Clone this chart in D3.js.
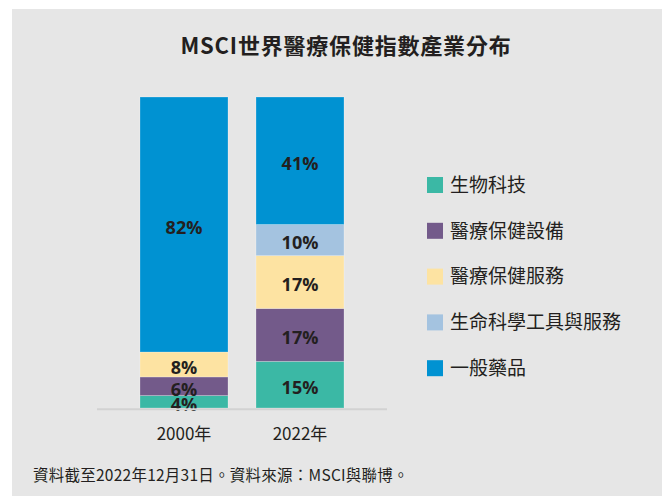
<!DOCTYPE html>
<html>
<head>
<meta charset="utf-8">
<script src="https://cdn.jsdelivr.net/npm/d3@7"></script>
<style>
  body { margin: 0; background: #fff; }
  svg { display: block; }
</style>
</head>
<body>
<svg id="chart"></svg>
<script>
// categories + series (percent of index)
const years = ["2000年", "2022年"];
const sectors = ["生物科技", "醫療保健設備", "醫療保健服務", "生命科學工具與服務", "一般藥品"];
const biotech = [4, 15];
const equipment = [6, 17];
const services = [8, 17];
const lifeSci = [0, 10];
const pharma = [82, 41];
const colors = ["#3bb8a5", "#735a8a", "#fde3a2", "#a4c3e0", "#0092d2"];

const title = "MSCI世界醫療保健指數產業分布";
const note = "資料截至2022年12月31日。資料來源：MSCI與聯博。";

class stackChart {
    constructor(_config) {
        this.config = {
            parentElement: _config.parentElement,
            containerWidth: 662,
            containerHeight: 496
        };
        this.initVis();
    }

    initVis() {
        let vis = this;

        vis.svg = d3.select(vis.config.parentElement)
            .attr('width', vis.config.containerWidth)
            .attr('height', vis.config.containerHeight)
            .style('font-family', '"Noto Sans CJK TC", "Noto Sans", sans-serif');

        // grey panel
        vis.svg.append('rect')
            .attr('x', 12).attr('y', 9)
            .attr('width', 650).attr('height', 487)
            .attr('fill', '#e6e6e6');

        vis.svg.append('text')
            .attr('x', 346).attr('y', 54)
            .attr('text-anchor', 'middle')
            .attr('font-size', 22)
            .attr('font-weight', 700)
            .attr('letter-spacing', 0.8)
            .attr('fill', '#231f20')
            .text(title);

        // bars 140-228 and 256-344
        vis.xScale = d3.scaleBand()
            .domain(years)
            .range([140, 344])
            .paddingInner(28 / 116)
            .paddingOuter(0);

        vis.yScale = d3.scaleLinear()
            .domain([0, 100])
            .range([408, 97]);
    }

    updateVis() {
        let vis = this;
        vis.table = years.map((y, i) => ({
            year: y,
            "生物科技": biotech[i],
            "醫療保健設備": equipment[i],
            "醫療保健服務": services[i],
            "生命科學工具與服務": lifeSci[i],
            "一般藥品": pharma[i]
        }));
        vis.series = d3.stack().keys(sectors)(vis.table);
        vis.renderVis();
    }

    renderVis() {
        let vis = this;

        const groups = vis.svg.selectAll('.layer')
            .data(vis.series)
            .join('g')
            .attr('class', 'layer')
            .attr('fill', (d, i) => colors[i]);

        groups.selectAll('rect')
            .data(d => d.filter(s => s[1] - s[0] > 0))
            .join('rect')
            .attr('x', d => vis.xScale(d.data.year))
            .attr('y', d => vis.yScale(d[1]))
            .attr('width', vis.xScale.bandwidth())
            .attr('height', d => vis.yScale(d[0]) - vis.yScale(d[1]))
            .attr('stroke', 'rgba(255,255,255,0.3)')
            .attr('stroke-width', 0.8);

        // baseline
        vis.svg.append('line')
            .attr('x1', 97).attr('x2', 387)
            .attr('y1', vis.yScale(0) + 1.2).attr('y2', vis.yScale(0) + 1.2)
            .attr('stroke', '#d2d2d2')
            .attr('stroke-width', 2);

        // value labels
        groups.selectAll('text')
            .data(d => d.filter(s => s[1] - s[0] > 0))
            .join('text')
            .attr('x', d => vis.xScale(d.data.year) + vis.xScale.bandwidth() / 2)
            .attr('y', d => (vis.yScale(d[0]) + vis.yScale(d[1])) / 2 + 3)
            .attr('dy', '0.35em')
            .attr('text-anchor', 'middle')
            .attr('font-family', '"Open Sans", "Noto Sans", sans-serif')
            .attr('font-size', 18)
            .attr('font-weight', 700)
            .attr('fill', '#231f20')
            .text(d => (d[1] - d[0]) + '%');

        // x labels
        vis.xAxisG = vis.svg.append('g')
            .attr('transform', `translate(0,${vis.yScale(0) + 20})`)
            .call(d3.axisBottom(vis.xScale).tickSize(0).tickPadding(0));
        vis.xAxisG.select('.domain').remove();
        vis.xAxisG.selectAll('text')
            .attr('font-family', '"Noto Sans CJK TC", sans-serif')
            .attr('font-size', 17)
            .attr('fill', '#231f20');

        // legend
        const legend = vis.svg.selectAll('.legend')
            .data(sectors)
            .join('g')
            .attr('class', 'legend')
            .attr('transform', (d, i) => `translate(427,${185 + i * 45.8})`);

        legend.append('rect')
            .attr('x', 0).attr('y', -8)
            .attr('width', 16).attr('height', 16)
            .attr('fill', (d, i) => colors[i]);

        legend.append('text')
            .attr('x', 23).attr('y', 0)
            .attr('dy', '0.36em')
            .attr('font-size', 19)
            .attr('fill', '#231f20')
            .text(d => d);

        vis.svg.append('text')
            .attr('x', 33).attr('y', 481)
            .attr('font-size', 15.5)
            .attr('letter-spacing', 0.25)
            .attr('fill', '#231f20')
            .text(note);
    }
}

const chart = new stackChart({ parentElement: '#chart' });
chart.updateVis();
</script>
</body>
</html>
